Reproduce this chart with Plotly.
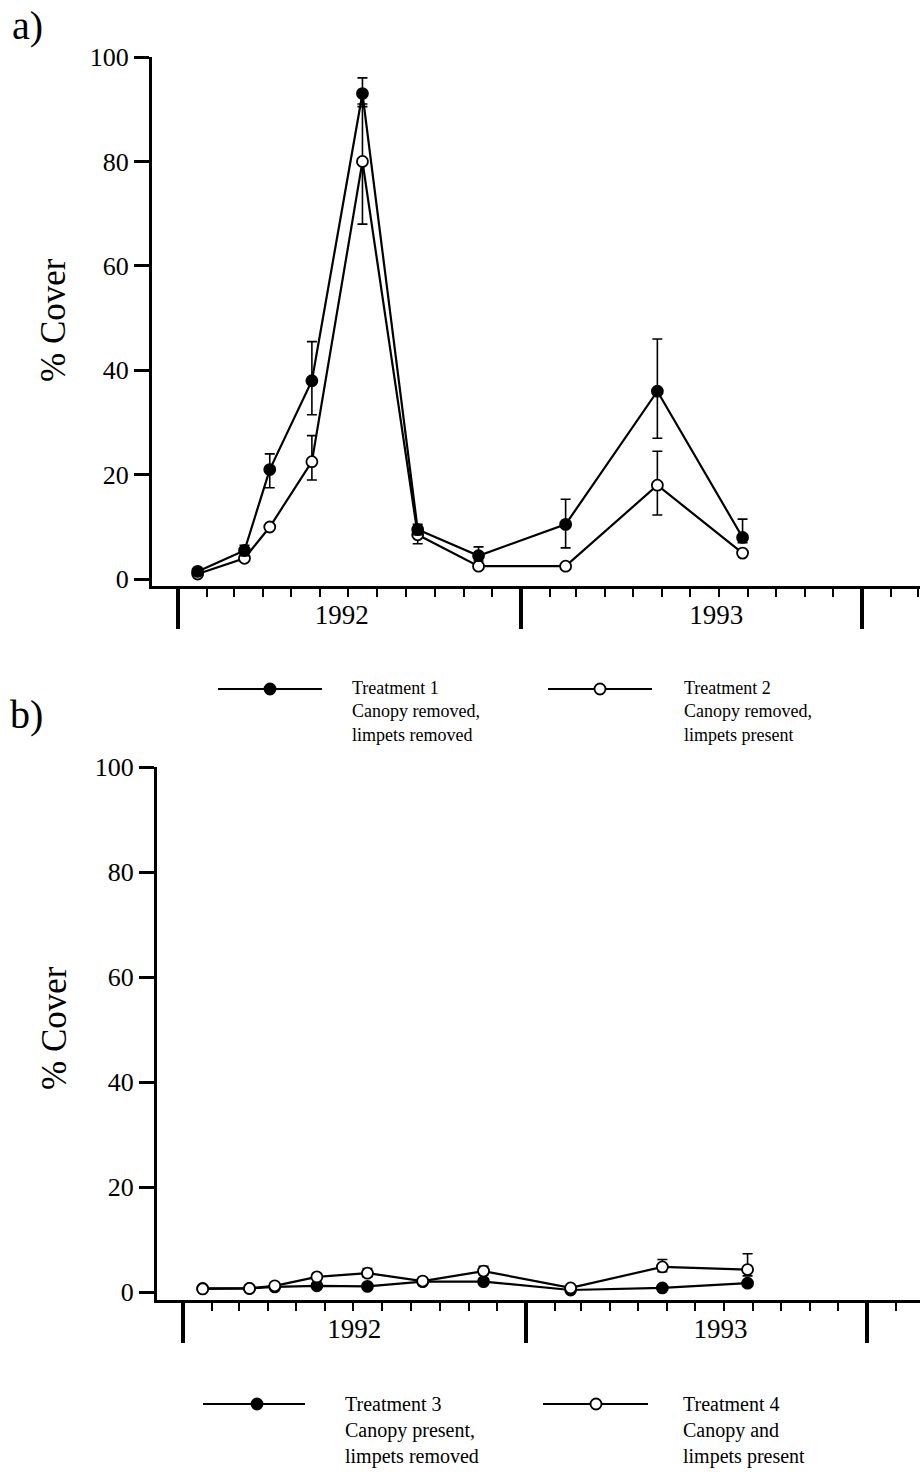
import plotly.graph_objects as go
import datetime as dt

W, H = 920, 1478
FONT = "Liberation Serif"

# ---------------- data ----------------
dates = ["1992-01-22", "1992-03-12", "1992-04-08", "1992-05-23", "1992-07-16",
         "1992-09-13", "1992-11-17", "1993-02-18", "1993-05-27", "1993-08-26"]

# panel a
t1 = [1.5, 5.5, 21.0, 38.0, 93.0, 9.5, 4.5, 10.5, 36.0, 8.0]
t1_up = [None, 1.0, 3.0, 7.5, 3.0, 1.0, 1.7, 4.8, 10.0, 3.5]
t1_dn = [None, 1.0, 3.5, 6.5, 2.5, 1.0, 1.0, 4.5, 9.0, 1.0]
t2 = [1.0, 4.0, 10.0, 22.5, 80.0, 8.5, 2.5, 2.5, 18.0, 5.0]
t2_up = [None, None, None, 5.0, 11.0, 1.0, None, None, 6.5, None]
t2_dn = [None, None, None, 3.5, 12.0, 1.7, None, None, 5.7, None]

# panel b
t3 = [0.7, 0.7, 1.0, 1.2, 1.1, 2.0, 2.0, 0.4, 0.8, 1.7]
t3_up = [None] * 10
t3_dn = [None] * 10
t4 = [0.6, 0.7, 1.2, 2.9, 3.6, 2.1, 4.0, 0.8, 4.8, 4.3]
t4_up = [None, None, None, None, 0.9, None, 0.9, None, 1.4, 3.0]
t4_dn = [None, None, None, None, 0.7, None, 0.7, None, 0.9, 1.2]

yticks = [0, 20, 40, 60, 80, 100]
year_text = ["1992", "1993"]
year_at_a = ["1992-06-24", "1993-07-29"]
year_at_b = ["1992-07-02", "1993-07-28"]
legend_a = ["Treatment 1<br>Canopy removed,<br>limpets removed",
            "Treatment 2<br>Canopy removed,<br>limpets present"]
legend_b = ["Treatment 3<br>Canopy present,<br>limpets removed",
            "Treatment 4<br>Canopy and<br>limpets present"]


def px(x):
    return x / W


def py(y):
    return 1 - y / H


def trace(y, up, dn, filled, xa, ya):
    return go.Scatter(
        x=dates, y=y, xaxis=xa, yaxis=ya, mode="lines+markers",
        line=dict(color="black", width=2.2),
        marker=dict(size=11, color="black" if filled else "white",
                    line=dict(color="black", width=1.8)),
        error_y=dict(type="data", symmetric=False, array=up, arrayminus=dn,
                     color="black", thickness=1.6, width=5),
        showlegend=False, hoverinfo="skip")


fig = go.Figure()
fig.add_trace(trace(t2, t2_up, t2_dn, False, "x", "y"))
fig.add_trace(trace(t1, t1_up, t1_dn, True, "x", "y"))
fig.add_trace(trace(t3, t3_up, t3_dn, True, "x2", "y2"))
fig.add_trace(trace(t4, t4_up, t4_dn, False, "x2", "y2"))
# empty traces so the overlaid year-label axes are instantiated
fig.add_trace(go.Scatter(x=[], y=[], xaxis="x3", yaxis="y", showlegend=False,
                         hoverinfo="skip"))
fig.add_trace(go.Scatter(x=[], y=[], xaxis="x4", yaxis="y2", showlegend=False,
                         hoverinfo="skip"))


def date_range(left_px, jan_px):
    mpp = 1 / 28.5
    base = dt.datetime(1992, 1, 1)
    dpm = 30.44
    start = base + dt.timedelta(days=(left_px - jan_px) * mpp * dpm)
    end = base + dt.timedelta(days=(W - jan_px) * mpp * dpm)
    return [start.strftime("%Y-%m-%d %H:%M"), end.strftime("%Y-%m-%d %H:%M")]


def xaxis_cfg(left_px, jan_px, anchor):
    return dict(
        type="date", domain=[px(left_px), 1], anchor=anchor, automargin=False,
        range=date_range(left_px, jan_px),
        showline=True, linewidth=3, linecolor="black",
        ticks="outside", ticklen=40, tickwidth=4, tickcolor="black",
        tick0="1992-01-01", dtick="M12", showticklabels=False,
        minor=dict(ticks="outside", ticklen=8, tickwidth=2, tickcolor="black",
                   dtick="M1", tick0="1992-01-01", showgrid=False),
        showgrid=False, zeroline=False, fixedrange=True)


def label_axis_cfg(left_px, jan_px, anchor, over, vals):
    return dict(
        type="date", overlaying=over, anchor=anchor, automargin=False,
        domain=[px(left_px), 1],
        range=date_range(left_px, jan_px), side="bottom",
        tickmode="array", tickvals=vals, ticktext=year_text, ticks="",
        showticklabels=True, ticklabelstandoff=10,
        tickfont=dict(family=FONT, size=27, color="black"),
        showline=False, showgrid=False, zeroline=False, fixedrange=True)


def yaxis_cfg(top_px, bottom_px, ymin, anchor):
    return dict(
        domain=[py(bottom_px), py(top_px)], anchor=anchor, range=[ymin, 100],
        automargin=False,
        tickvals=yticks, ticks="outside", ticklen=15, tickwidth=2.5,
        tickcolor="black", showline=True, linewidth=3, linecolor="black",
        tickfont=dict(family=FONT, size=26, color="black"),
        showgrid=False, zeroline=False, fixedrange=True)


annotations = []
shapes = []


def add_legend(items, y_line, specs, fsize):
    for (x0, x1, xm, xt, filled), txt in zip(specs, items):
        shapes.append(dict(type="line", xref="paper", yref="paper",
                           x0=px(x0), x1=px(x1), y0=py(y_line), y1=py(y_line),
                           line=dict(color="black", width=2.2)))
        r = 5.5
        shapes.append(dict(type="circle", xref="paper", yref="paper",
                           x0=px(xm - r), x1=px(xm + r),
                           y0=py(y_line + r), y1=py(y_line - r),
                           fillcolor="black" if filled else "white",
                           line=dict(color="black", width=1.8)))
        annotations.append(dict(xref="paper", yref="paper", x=px(xt),
                                y=py(y_line - 13), xanchor="left", yanchor="top",
                                align="left", showarrow=False, text=txt,
                                font=dict(family=FONT, size=fsize, color="black")))


add_legend(legend_a, 689, [(218, 322, 270, 350, True), (548, 652, 600, 682, False)], 18)
add_legend(legend_b, 1404, [(203, 305, 257, 343, True), (543, 648, 596, 681, False)], 20)

for txt, x, y in [("a)", 10, 26), ("b)", 8, 714)]:
    annotations.append(dict(xref="paper", yref="paper", x=px(x), y=py(y),
                            xanchor="left", yanchor="middle", showarrow=False,
                            text=txt, font=dict(family=FONT, size=40, color="black")))

for y in [320, 1028]:
    annotations.append(dict(xref="paper", yref="paper", x=px(54), y=py(y),
                            xanchor="center", yanchor="middle", showarrow=False,
                            textangle=-90, text="% Cover",
                            font=dict(family=FONT, size=35, color="black")))

fig.update_layout(
    width=W, height=H, margin=dict(l=0, r=0, t=0, b=0),
    paper_bgcolor="white", plot_bgcolor="white",
    xaxis=xaxis_cfg(152, 178, "y"),
    yaxis=yaxis_cfg(57, 586, -1.3, "x"),
    xaxis2=xaxis_cfg(157, 183, "y2"),
    yaxis2=yaxis_cfg(767, 1300, -1.5, "x2"),
    xaxis3=label_axis_cfg(152, 178, "y", "x", year_at_a),
    xaxis4=label_axis_cfg(157, 183, "y2", "x2", year_at_b),
    annotations=annotations, shapes=shapes,
)

fig.write_html("out.html")
